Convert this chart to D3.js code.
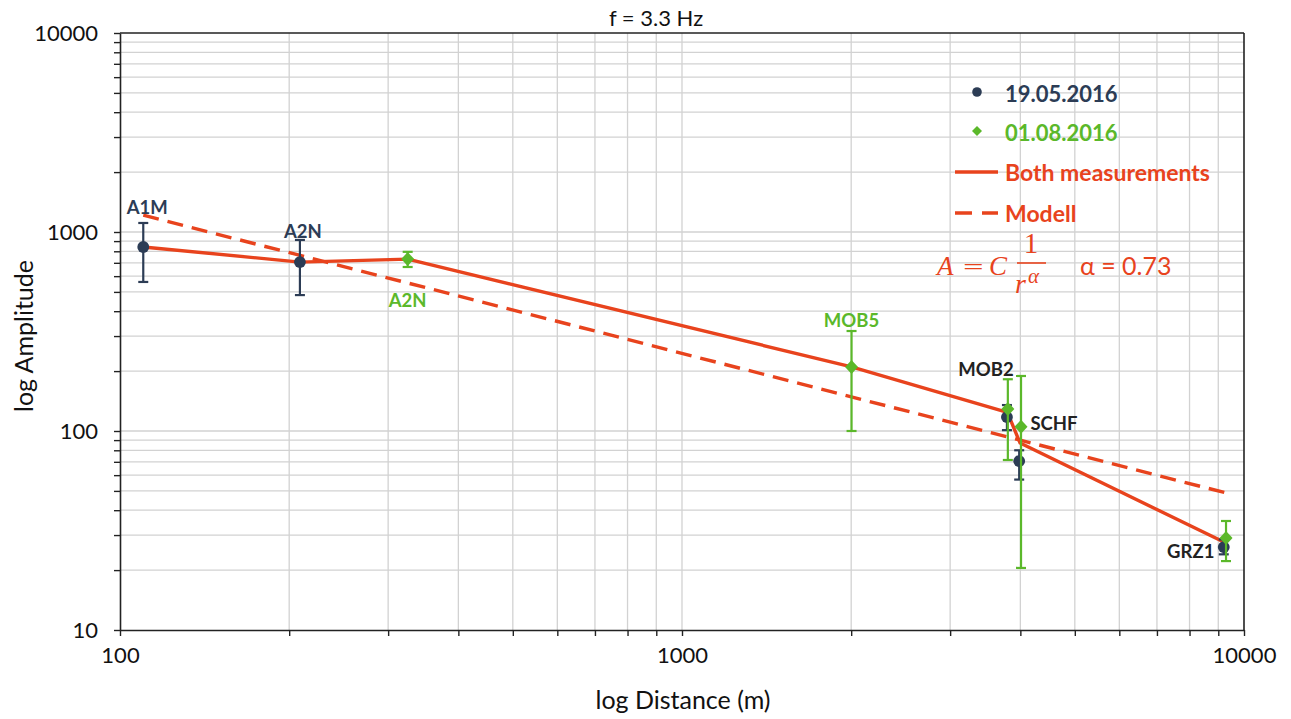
<!DOCTYPE html>
<html><head><meta charset="utf-8">
<script src="https://cdn.jsdelivr.net/npm/d3@7"></script>
<style>
html,body{margin:0;padding:0;background:#fff;}
svg{display:block;font-family:Lato,"Open Sans",sans-serif;}
</style></head>
<body>
<svg id="chart" width="1291" height="719"></svg>
<script>
// ---- data ----
const series1Label = "19.05.2016";
const series1Names = ["A1M", "A2N", "MOB2", "SCHF", "GRZ1"];
const series1Dist  = [110, 209, 3786, 3981, 9204];
const series1Amp   = [841, 706, 117.5, 70.6, 26.1];
const series1Lo    = [561, 482, 101, 57, 24];
const series1Hi    = [1110, 912, 135, 80, 28.5];

const series2Label = "01.08.2016";
const series2Names = ["A2N", "MOB5", "MOB2", "SCHF", "GRZ1"];
const series2Dist  = [325, 2003, 3800, 4011, 9290];
const series2Amp   = [731, 210, 129, 105, 29];
const series2Lo    = [667, 100, 71.5, 20.5, 22.2];
const series2Hi    = [795, 318, 182, 189, 35.3];

const bothLabel = "Both measurements";
const bothDist  = [110, 209, 325, 2003, 3793, 3996, 9247];
const bothAmp   = [841, 706, 731, 210, 124, 87, 27.5];

const modelLabel = "Modell";
const modelDist  = [110, 9250];
const modelAmp   = [1215, 49];
const alphaText  = "α = 0.73";

const xTickLabels = ["100", "1000", "10000"];
const yTickLabels = ["10", "100", "1000", "10000"];
const titleText = "f = 3.3 Hz";
const xTitle = "log Distance (m)";
const yTitle = "log Amplitude";

// ---- layout ----
const NAVY = "#2c3c55", GREEN = "#5bb82a", RED = "#e8431d", GRID = "#d2d2d2";
const L = 120, R = 1244, T = 33, B = 630;
const svg = d3.select("#chart");
const x = d3.scaleLog().domain([100, 10000]).range([L, R]);
const y = d3.scaleLog().domain([10, 10000]).range([B, T]);

const minorVals = (lo, hi) => {
  const v = [];
  for (let d = lo; d < hi; d *= 10) for (let k = 1; k <= 9; k++) v.push(d * k);
  v.push(hi);
  return v;
};
const xVals = minorVals(100, 10000);
const yVals = minorVals(10, 10000);

// grid
svg.append("g").selectAll("line").data(xVals.filter(v => v > 100 && v < 10000)).join("line")
  .attr("x1", d => x(d)).attr("x2", d => x(d)).attr("y1", T).attr("y2", B)
  .attr("stroke", GRID).attr("stroke-width", 1.3);
svg.append("g").selectAll("line").data(yVals.filter(v => v > 10 && v < 10000)).join("line")
  .attr("y1", d => y(d)).attr("y2", d => y(d)).attr("x1", L).attr("x2", R)
  .attr("stroke", GRID).attr("stroke-width", 1.3);

// axes
const xAxis = d3.axisBottom(x).tickValues(xVals).tickSize(6).tickSizeOuter(0)
  .tickFormat(d => xTickLabels.includes(String(d)) ? String(d) : "");
const gx = svg.append("g").attr("transform", `translate(0,${B})`).call(xAxis);
gx.select(".domain").attr("stroke", "#222").attr("stroke-width", 1.6);
gx.selectAll(".tick line").attr("stroke", "#222").attr("stroke-width", 1.4);
gx.selectAll(".tick text").attr("font-size", 22).attr("fill", "#111")
  .attr("font-family", "Lato").attr("dy", "1.1em");

const yAxis = d3.axisLeft(y).tickValues(yVals).tickSize(6).tickSizeOuter(0)
  .tickFormat(d => yTickLabels.includes(String(d)) ? String(d) : "");
const gy = svg.append("g").attr("transform", `translate(${L},0)`).call(yAxis);
gy.select(".domain").attr("stroke", "#222").attr("stroke-width", 1.6);
gy.selectAll(".tick line").attr("stroke", "#222").attr("stroke-width", 1.4);
gy.selectAll(".tick text").attr("font-size", 22).attr("fill", "#111")
  .attr("font-family", "Lato").attr("x", -22);

// top & right border
svg.append("line").attr("x1", L).attr("x2", R).attr("y1", T).attr("y2", T).attr("stroke", "#222").attr("stroke-width", 1.6);
svg.append("line").attr("x1", R).attr("x2", R).attr("y1", T).attr("y2", B).attr("stroke", "#222").attr("stroke-width", 1.6);

// titles
svg.append("text").attr("x", 656).attr("y", 26).attr("text-anchor", "middle")
  .attr("font-size", 22).attr("fill", "#111").text(titleText);
svg.append("text").attr("x", 683).attr("y", 709).attr("text-anchor", "middle")
  .attr("font-size", 25).attr("fill", "#111").text(xTitle);
svg.append("text").attr("transform", "translate(33,336) rotate(-90)").attr("text-anchor", "middle")
  .attr("font-size", 25).attr("fill", "#111").text(yTitle);

// lines
const line = d3.line().x(d => x(d[0])).y(d => y(d[1]));
svg.append("path").datum(modelDist.map((d, i) => [d, modelAmp[i]]))
  .attr("d", line).attr("fill", "none").attr("stroke", RED).attr("stroke-width", 3.4)
  .attr("stroke-dasharray", "16,9");
svg.append("path").datum(bothDist.map((d, i) => [d, bothAmp[i]]))
  .attr("d", line).attr("fill", "none").attr("stroke", RED).attr("stroke-width", 3.4)
  .attr("stroke-linejoin", "round");

// error bars + markers
function drawSeries(dist, amp, lo, hi, color, shape) {
  const g = svg.append("g");
  dist.forEach((d, i) => {
    const cx = x(d);
    g.append("line").attr("x1", cx).attr("x2", cx).attr("y1", y(lo[i])).attr("y2", y(hi[i]))
      .attr("stroke", color).attr("stroke-width", 2.2);
    [lo[i], hi[i]].forEach(v => g.append("line").attr("x1", cx - 5).attr("x2", cx + 5)
      .attr("y1", y(v)).attr("y2", y(v)).attr("stroke", color).attr("stroke-width", 2.2));
  });
  g.selectAll("path.m").data(dist.map((d, i) => [d, amp[i]])).join("path")
    .attr("transform", d => `translate(${x(d[0])},${y(d[1])})`)
    .attr("d", shape === "circle" ? d3.symbol(d3.symbolCircle, 110)() : "M0,-7L6.5,0L0,7L-6.5,0Z")
    .attr("fill", color);
}
drawSeries(series1Dist, series1Amp, series1Lo, series1Hi, NAVY, "circle");
drawSeries(series2Dist, series2Amp, series2Lo, series2Hi, GREEN, "diamond");

// point labels (offsets from their data points)
const labelStyle = (sel) => sel.attr("font-size", 18.5).attr("font-weight", 700).attr("text-anchor", "middle")
  .attr("dominant-baseline", "central");
const s1Off = [[4, -40], [3, -31], [-21, -48], [35, 0], [-33, 4]];
const s1Col = [NAVY, NAVY, "#222", "#222", "#222"];
series1Names.forEach((n, i) => {
  if (n === "SCHF") return;
  svg.append("text").call(labelStyle).attr("x", x(series1Dist[i]) + s1Off[i][0])
    .attr("y", y(series1Amp[i]) + s1Off[i][1]).attr("fill", s1Col[i]).text(n);
});
// SCHF label placed beside the green SCHF marker
{
  const i = series2Names.indexOf("SCHF");
  svg.append("text").call(labelStyle).attr("x", x(series2Dist[i]) + 33)
    .attr("y", y(series2Amp[i]) - 4).attr("fill", "#222").text("SCHF");
}
const s2Off = {"A2N": [0, 41], "MOB5": [0, -47]};
series2Names.forEach((n, i) => {
  if (!s2Off[n]) return;
  svg.append("text").call(labelStyle).attr("x", x(series2Dist[i]) + s2Off[n][0])
    .attr("y", y(series2Amp[i]) + s2Off[n][1]).attr("fill", GREEN).text(n);
});

// legend
const lg = svg.append("g").attr("font-size", 22).attr("font-weight", 700);
lg.append("circle").attr("cx", 977).attr("cy", 92).attr("r", 4.8).attr("fill", NAVY);
lg.append("text").attr("x", 1005).attr("y", 93).attr("dominant-baseline", "central").attr("fill", NAVY).text(series1Label);
lg.append("path").attr("d", "M977,126L982,131L977,136L972,131Z").attr("fill", GREEN);
lg.append("text").attr("x", 1005).attr("y", 132).attr("dominant-baseline", "central").attr("fill", GREEN).text(series2Label);
lg.append("line").attr("x1", 955).attr("x2", 998).attr("y1", 172).attr("y2", 172).attr("stroke", RED).attr("stroke-width", 3.4);
lg.append("text").attr("x", 1005).attr("y", 172).attr("dominant-baseline", "central").attr("fill", RED).attr("font-size", 23).text(bothLabel);
lg.append("line").attr("x1", 955).attr("x2", 998).attr("y1", 213).attr("y2", 213).attr("stroke", RED).attr("stroke-width", 3.4).attr("stroke-dasharray", "17,10");
lg.append("text").attr("x", 1005).attr("y", 213).attr("dominant-baseline", "central").attr("fill", RED).attr("font-size", 23).text(modelLabel);

// formula
const fg = svg.append("g").attr("fill", RED).attr("font-family", "'Liberation Serif',serif").attr("font-style", "italic");
fg.append("text").attr("x", 937).attr("y", 275).attr("font-size", 27).text("A");
fg.append("text").attr("x", 962).attr("y", 275).attr("font-size", 27).attr("font-style", "normal").attr("font-family", "'DejaVu Sans',sans-serif").attr("font-weight", 300).text("=");
fg.append("text").attr("x", 989).attr("y", 275).attr("font-size", 27).text("C");
fg.append("text").attr("x", 1031).attr("y", 253).attr("font-size", 29).attr("font-style", "normal").attr("text-anchor", "middle").text("1");
fg.append("line").attr("x1", 1017).attr("x2", 1046).attr("y1", 263).attr("y2", 263).attr("stroke", RED).attr("stroke-width", 1.6);
fg.append("text").attr("x", 1015).attr("y", 293).attr("font-size", 28).text("r");
fg.append("text").attr("x", 1028).attr("y", 283).attr("font-size", 21).text("α");
svg.append("text").attr("x", 1080).attr("y", 275).attr("font-size", 25).attr("fill", RED).text(alphaText);
</script>
</body></html>
